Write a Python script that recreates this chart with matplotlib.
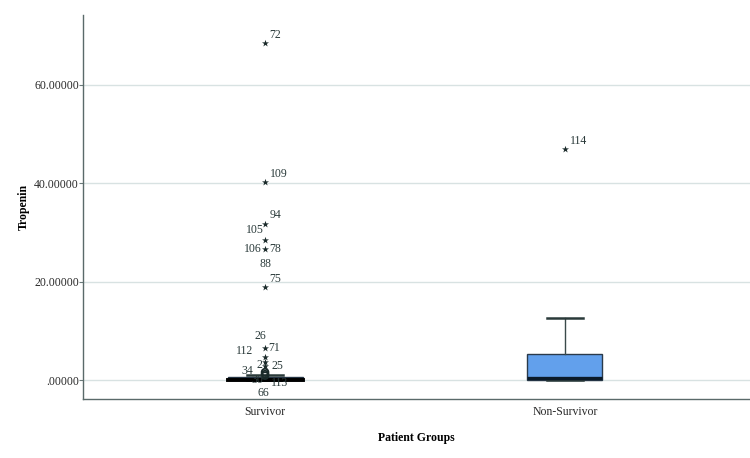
import matplotlib
matplotlib.use("Agg")
import matplotlib.pyplot as plt

categories = ["Survivor", "Non-Survivor"]
# box stats (whislo, q1, med, q3, whishi)
survivor_box = [0.0, 0.05, 0.15, 0.55, 1.1]
nonsurv_box = [0.0, 0.1, 0.5, 5.3, 12.6]

# Survivor extreme outliers (star) and labels
surv_star_vals = [68.5, 40.2, 31.8, 28.4, 26.6, 18.9, 6.5, 4.6, 3.6, 2.8]
surv_star_ids = ["72", "109", "94", "105", "106", "75", "71", "26", "112", "2"]
surv_circle_vals = [1.6, 1.2, 0.9]
surv_circle_ids = ["25", "34", "30"]
nonsurv_star_vals = [47.0]
nonsurv_star_ids = ["114"]

yticks = [0, 20, 40, 60]
ytick_labels = [".00000", "20.00000", "40.00000", "60.00000"]

plt.rcParams['font.family'] = ['Liberation Serif', 'DejaVu Serif']
fig = plt.figure(figsize=(7.5, 4.58), dpi=100)
ax = fig.add_axes([83/750, 1-399/458, (750-83)/750, (399-15)/458])

stats = []
for lab, b in zip(categories, [survivor_box, nonsurv_box]):
    stats.append(dict(label=lab, whislo=b[0], q1=b[1], med=b[2], q3=b[3], whishi=b[4], fliers=[]))
ax.bxp(stats, positions=[1, 2], widths=0.25, patch_artist=True, showfliers=False,
       boxprops=dict(facecolor="#62a0ec", edgecolor="#2a3a4a", linewidth=1.0),
       medianprops=dict(color="#0a1a2a", linewidth=2.4),
       whiskerprops=dict(color="#3a4a4a", linewidth=1.0),
       capprops=dict(color="#2a3a3a", linewidth=1.8),
       capwidths=0.12, zorder=3)
# thick black base line under survivor
ax.plot([0.875, 1.125], [0.1, 0.1], color="black", lw=2.8, zorder=4)

ax.scatter([1]*len(surv_star_vals), surv_star_vals, marker="*", s=28, color="#1a2a2a", zorder=5, linewidths=0)
ax.scatter([1]*len(surv_circle_vals), surv_circle_vals, marker="o", s=24, facecolor="none",
           edgecolor="#1a2a2a", zorder=5, linewidths=1.3)
ax.scatter([2]*len(nonsurv_star_vals), nonsurv_star_vals, marker="*", s=28, color="#1a2a2a", zorder=5, linewidths=0)

lblc = "#2a3a3a"
fs = 8.5
# labels: (text, x, y, ha)
surv_labels = [
    ("72", 1.015, 70.2, "left"), ("109", 1.015, 41.9, "left"), ("94", 1.015, 33.6, "left"),
    ("105", 0.995, 30.4, "right"), ("106", 0.99, 26.6, "right"), ("78", 1.015, 26.6, "left"),
    ("88", 1.0, 23.6, "center"), ("75", 1.015, 20.6, "left"), ("26", 0.985, 8.9, "center"),
    ("71", 1.01, 6.5, "left"), ("112", 0.96, 6.0, "right"), ("2", 0.99, 3.1, "right"),
    ("25", 1.02, 2.8, "left"), ("34", 0.96, 1.8, "right"), ("30", 0.975, 0.1, "center"),
    ("113", 1.05, -0.6, "center"), ("66", 0.995, -2.6, "center"),
]
for t, x, y, ha in surv_labels:
    ax.text(x, y, t, ha=ha, va="center", fontsize=fs, color=lblc, zorder=6)
ax.text(2.015, 48.6, "114", ha="left", va="center", fontsize=fs, color=lblc)

ax.set_xlim(0.393, 2.617)
ax.set_ylim(-3.85, 74.2)
ax.set_xticks([1, 2])
ax.set_xticklabels(categories, fontsize=8.5, color="#2a2a2a")
ax.set_yticks(yticks)
ax.set_yticklabels(ytick_labels, fontsize=8.5, color="#2a2a2a")
ax.tick_params(axis="x", length=0, pad=5)
ax.tick_params(axis="y", length=3, color="#6a7a7a", pad=0)
ax.yaxis.grid(True, color="#d8e2e2", linewidth=1.0, zorder=0)
ax.set_axisbelow(True)
for s in ["top", "right"]:
    ax.spines[s].set_visible(False)
for s in ["left", "bottom"]:
    ax.spines[s].set_color("#5a6a6a")
    ax.spines[s].set_linewidth(1.0)
ax.set_ylabel("Tropenin", fontsize=8.5, fontweight="bold", labelpad=3)
ax.set_xlabel("Patient Groups", fontsize=8.5, fontweight="bold", labelpad=10)

fig.savefig("out.png", dpi=100)
